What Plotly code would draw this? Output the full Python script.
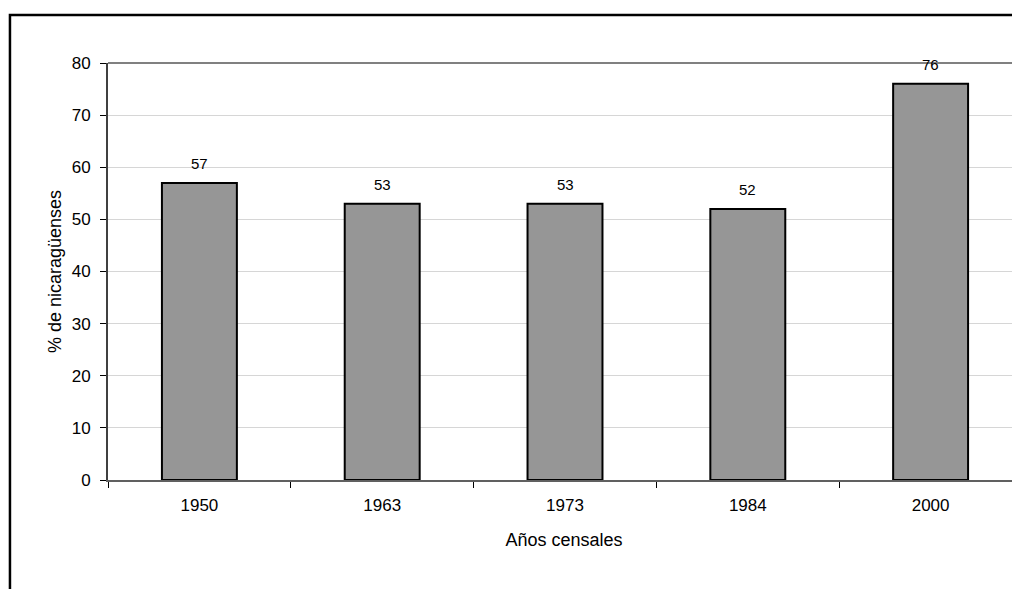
import plotly.graph_objects as go

years = ["1950", "1963", "1973", "1984", "2000"]
values = [57, 53, 53, 52, 76]
y_ticks = [0, 10, 20, 30, 40, 50, 60, 70, 80]

FONT = "Liberation Sans, Arial, sans-serif"

fig = go.Figure()
fig.add_trace(go.Bar(
    x=years, y=values,
    marker=dict(color="#969696", line=dict(color="#000000", width=2)),
    hoverinfo="x+y",
))

for i, v in enumerate(values):
    fig.add_annotation(x=i, y=v, text=str(v), showarrow=False,
                       yanchor="bottom", yshift=9,
                       font=dict(family=FONT, size=15, color="#000"))

# outer chart border (extends past the page on right and bottom)
fig.add_shape(type="rect", xref="paper", yref="paper",
              x0=-0.1075, x1=1.05, y0=-0.3, y1=1.1151,
              line=dict(color="#000000", width=2.5), fillcolor="rgba(0,0,0,0)",
              layer="below")
# top border of plot area
fig.add_shape(type="line", xref="paper", yref="paper",
              x0=0, x1=1, y0=1, y1=1,
              line=dict(color="#808080", width=2))

fig.update_layout(
    width=1012, height=581,
    margin=dict(l=100, r=0, t=55, b=109),
    paper_bgcolor="white", plot_bgcolor="white",
    font=dict(family=FONT, size=17, color="#000"),
    bargap=0.59,
    showlegend=False,
    xaxis=dict(
        type="category",
        range=[-0.5, 4.489],
        title=dict(text="Años censales", font=dict(size=18), standoff=19),
        showline=True, linecolor="#606060", linewidth=2,
        ticks="outside", tickson="boundaries", ticklen=6, tickcolor="#000", tickwidth=1,
        ticklabelstandoff=9,
        showgrid=False, zeroline=False,
    ),
    yaxis=dict(
        range=[0, 80],
        tickvals=y_ticks,
        title=dict(text="% de nicaragüenses", font=dict(size=18), standoff=5),
        showline=True, linecolor="#404040", linewidth=2,
        ticks="outside", ticklen=6, tickcolor="#000", tickwidth=1,
        ticklabelstandoff=6,
        showgrid=True, gridcolor="#d6d6d6", gridwidth=1,
        zeroline=False,
    ),
)

fig.write_html("out.html")
